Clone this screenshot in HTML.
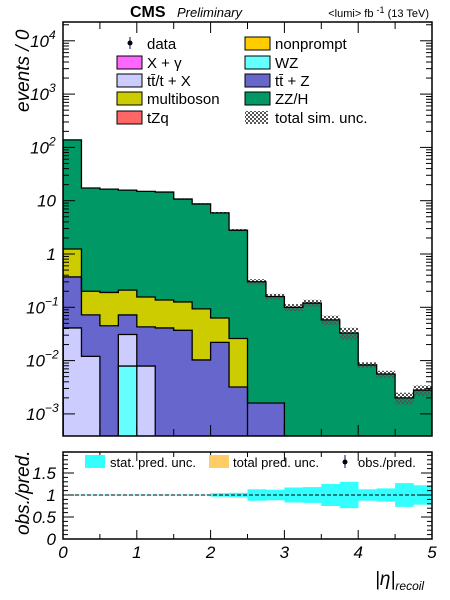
<!DOCTYPE html>
<html><head><meta charset="utf-8">
<style>
body{margin:0;background:#fff;}
svg{display:block;font-family:"Liberation Sans",sans-serif;}
</style></head>
<body>
<svg id="chart" width="450" height="600" viewBox="0 0 450 600" xmlns="http://www.w3.org/2000/svg">
<defs>
<pattern id="hatch" width="4" height="4" patternUnits="userSpaceOnUse">
<rect x="0" y="0" width="2" height="2" fill="#555"/>
<rect x="2" y="2" width="2" height="2" fill="#555"/>
</pattern>
</defs>
<g id="upper"></g>
<g id="lower"></g>
<text x="130" y="17" font-size="16" font-weight="bold">CMS</text>
<text x="177" y="17" font-size="13" font-style="italic">Preliminary</text>
<text x="429" y="17" font-size="11" text-anchor="end">&lt;lumi&gt; fb <tspan dy="-4" font-size="9">-1</tspan><tspan dy="4"> (13 TeV)</tspan></text>
<text transform="translate(29,112) rotate(-90)" font-size="19" font-style="italic">events / 0</text>
<text transform="translate(29,535) rotate(-90)" font-size="19" font-style="italic">obs./pred.</text>
<text x="375" y="585" font-size="19" font-style="italic">|η|<tspan font-size="12" dy="5">recoil</tspan></text>
</svg>
<script>
const binEdges = [0,0.25,0.5,0.75,1,1.25,1.5,1.75,2,2.25,2.5,2.75,3,3.25,3.5,3.75,4,4.25,4.5,4.75,5];
const wzVals = [0,0,0,0.0079,0,0,0,0,0,0,0,0,0,0,0,0,0,0,0,0];
const ttxVals = [0.041,0.012,0,0.023,0.0079,0,0,0,0,0,0,0,0,0,0,0,0,0,0,0];
const ttzVals = [0.33,0.06,0.045,0.041,0.035,0.041,0.037,0.0103,0.022,0.0032,0.0016,0.0016,0,0,0,0,0,0,0,0];
const multibosonVals = [0.87,0.128,0.145,0.138,0.113,0.096,0.089,0.083,0.041,0.0228,0,0,0,0,0,0,0,0,0,0];
const zzhVals = [137,17.1,16.3,15.6,14.8,14.4,10.6,8.6,5.84,2.77,0.30,0.158,0.10,0.12,0.058,0.033,0.0083,0.0056,0.0020,0.0028];
const simUncRel = [0.02,0.02,0.02,0.02,0.02,0.02,0.03,0.03,0.04,0.05,0.12,0.12,0.15,0.15,0.2,0.25,0.12,0.15,0.25,0.22];
const ratioStatUnc = [0.01,0.01,0.01,0.01,0.01,0.01,0.01,0.01,0.04,0.05,0.13,0.12,0.17,0.18,0.25,0.3,0.13,0.15,0.27,0.22];
const yTickExps = [-3,-2,-1,0,1,2,3,4];
const yTickLabels = ["10","10","10","1","10","10","10","10"];
const ySupLabels = ["−3","−2","−1","","","2","3","4"];
const ratioTicks = [0,0.5,1,1.5];
const ratioTickLabels = ["0","0.5","1","1.5"];
const xTicks = [0,1,2,3,4,5];
const xTickLabels = ["0","1","2","3","4","5"];

const NS="http://www.w3.org/2000/svg";
const X0=63,X1=432,UT=22,UB=436,LT=452,LB=539;
const xs=v=>X0+(X1-X0)*v/5;
const ys=v=>254-53.3*Math.log10(v);
const yr=v=>LB-44*v;
function mk(parent,tag,attrs){const e=document.createElementNS(NS,tag);for(const k in attrs)e.setAttribute(k,attrs[k]);parent.appendChild(e);return e;}
const up=document.getElementById('upper'), lo=document.getElementById('lower');
const clipU=mk(up,'clipPath',{id:'cu'});mk(clipU,'rect',{x:X0,y:UT,width:X1-X0,height:UB-UT});
const stackG=mk(up,'g',{'clip-path':'url(#cu)'});


const order=[wzVals,ttxVals,ttzVals,multibosonVals,zzhVals];
const names=["wz","ttx","ttz","multiboson","zz-h"];
const cols=["#66ffff","#ccccff","#6666cc","#cccc00","#009966"];
function cum(idx,i){let s=0;for(let k=0;k<=idx;k++)s+=order[k][i];return s;}
const BOT=UB+5;
const yc=v=>v>0?Math.min(ys(v),BOT):BOT;
for(let li=4;li>=0;li--){
  const vals=order[li];
  for(let i=0;i<vals.length;i++){
    const t=cum(li,i); if(t<=0||vals[i]<=0)continue;
    const r=mk(stackG,'rect',{x:xs(binEdges[i]),y:ys(t),width:xs(binEdges[i+1])-xs(binEdges[i])+0.4,height:Math.max(0,BOT-ys(t)),fill:cols[li]});
    
    
  }
}
for(let i=0;i<zzhVals.length;i++){
  const t=cum(4,i),u=simUncRel[i];
  const h=mk(stackG,'rect',{x:xs(binEdges[i]),y:ys(t*(1+u)),width:xs(binEdges[i+1])-xs(binEdges[i]),height:ys(t*(1-u))-ys(t*(1+u)),fill:'url(#hatch)'});
  
  
}
// step outlines
for(let li=0;li<5;li++){
  let d='';
  const n=order[li].length;
  for(let i=0;i<n;i++){
    const has=order[li][i]>0;
    const y=has?yc(cum(li,i)):BOT;
    const x0=xs(binEdges[i]),x1=xs(binEdges[i+1]);
    d+=(i===0?'M'+x0+','+BOT+' L':' L')+x0+','+y+' L'+x1+','+y;
  }
  d+=' L'+xs(5)+','+BOT;
  const p=mk(stackG,'path',{d:d,fill:'none',stroke:'#000','stroke-width':1.3});
  
  
}
const fu=mk(up,'rect',{x:X0,y:UT,width:X1-X0,height:UB-UT,fill:'none',stroke:'#000','stroke-width':1.5});


for(let v=0;v<=5.001;v+=0.5){
  const L=(Math.abs(v-Math.round(v))<1e-6)?11:7;
  mk(up,'line',{x1:xs(v),x2:xs(v),y1:UB,y2:UB-L,stroke:'#000'});
  mk(up,'line',{x1:xs(v),x2:xs(v),y1:UT,y2:UT+L,stroke:'#000'});
}
yTickExps.forEach((e,i)=>{
  for(let m=1;m<10;m++){
    const y=ys(m*Math.pow(10,e)); if(y<UT||y>UB)continue;
    const L=m===1?12:6;
    mk(up,'line',{x1:X0,x2:X0+L,y1:y,y2:y,stroke:'#000'});
    mk(up,'line',{x1:X1,x2:X1-L,y1:y,y2:y,stroke:'#000'});
  }
  const sup=ySupLabels[i];
  const t=mk(up,'text',{x:sup?(sup.length>1?45:49):56,y:ys(Math.pow(10,e))+6,'font-size':17,'font-style':'italic','text-anchor':'end'});
  
  
  t.textContent=yTickLabels[i];
  if(sup){const s=mk(up,'text',{x:sup.length>1?45:49,y:ys(Math.pow(10,e))-2,'font-size':12,'font-style':'italic'});
    
    
    s.textContent=sup;}
});
const leg=mk(up,'g',{});


const legItems=[[117,43,'data',null],[117,62,'X + γ','#ff66ff'],[117,80,'tt̄/t + X','#ccccff'],[117,98,'multiboson','#cccc00'],[117,117,'tZq','#ff6666'],
[245,43,'nonprompt','#ffcc00'],[245,62,'WZ','#66ffff'],[245,80,'tt̄ + Z','#6666cc'],[245,98,'ZZ/H','#009966'],[245,117,'total sim. unc.','hatch']];
legItems.forEach(([x,y,lab,col])=>{
  const g=mk(leg,'g',{});
  
  
  if(col===null){mk(g,'line',{x1:130,x2:130,y1:y-6,y2:y+6,stroke:'#00008b'});mk(g,'circle',{cx:130,cy:y,r:2.5,fill:'#000'});}
  else if(col==='hatch'){mk(g,'rect',{x:x,y:y-6,width:23,height:13,fill:'url(#hatch)'});}
  else mk(g,'rect',{x:x,y:y-6,width:25,height:13,fill:col,stroke:'#000'});
  const t=mk(g,'text',{x:x+30,y:y+6,'font-size':15});t.textContent=lab;
});
const clipL=mk(lo,'clipPath',{id:'cl'});mk(clipL,'rect',{x:X0,y:LT,width:X1-X0,height:LB-LT});
const bandG=mk(lo,'g',{'clip-path':'url(#cl)'});
for(let i=0;i<ratioStatUnc.length;i++){
  const u=ratioStatUnc[i];
  const r=mk(bandG,'rect',{x:xs(binEdges[i]),y:yr(1+u),width:xs(binEdges[i+1])-xs(binEdges[i])+0.3,height:yr(1-u)-yr(1+u),fill:'#33ffff'});
  
  
}
mk(lo,'line',{x1:X0,x2:X1,y1:yr(1),y2:yr(1),stroke:'#000','stroke-dasharray':'4,2'});
const fl=mk(lo,'rect',{x:X0,y:LT,width:X1-X0,height:LB-LT,fill:'none',stroke:'#000','stroke-width':1.5});


for(let v=0;v<=5.001;v+=0.5){
  const L=(Math.abs(v-Math.round(v))<1e-6)?9:5;
  mk(lo,'line',{x1:xs(v),x2:xs(v),y1:LB,y2:LB-L,stroke:'#000'});
  mk(lo,'line',{x1:xs(v),x2:xs(v),y1:LT,y2:LT+L,stroke:'#000'});
}
for(let v=0;v<=1.95;v+=0.1){
  const L=(Math.abs(v*2-Math.round(v*2))<1e-6)?11:5;
  mk(lo,'line',{x1:X0,x2:X0+L,y1:yr(v),y2:yr(v),stroke:'#000'});
  mk(lo,'line',{x1:X1,x2:X1-L,y1:yr(v),y2:yr(v),stroke:'#000'});
}
ratioTicks.forEach((v,i)=>{
  const t=mk(lo,'text',{x:56,y:yr(v)+6,'font-size':17,'font-style':'italic','text-anchor':'end'});
  
  
  t.textContent=ratioTickLabels[i];
});
xTicks.forEach((v,i)=>{
  const t=mk(lo,'text',{x:xs(v),y:558,'font-size':17,'font-style':'italic','text-anchor':'middle'});
  
  
  t.textContent=xTickLabels[i];
});
const rl=mk(lo,'g',{});


mk(rl,'rect',{x:85,y:455,width:20,height:13,fill:'#33ffff'});
let t1=mk(rl,'text',{x:110,y:467,'font-size':13});t1.textContent='stat. pred. unc.';
mk(rl,'rect',{x:209,y:455,width:20,height:13,fill:'#ffcc66'});
let t2=mk(rl,'text',{x:233,y:467,'font-size':13});t2.textContent='total pred. unc.';
mk(rl,'line',{x1:345,x2:345,y1:455,y2:468,stroke:'#00008b'});
mk(rl,'circle',{cx:345,cy:462,r:2.5,fill:'#000'});
let t3=mk(rl,'text',{x:358,y:467,'font-size':13});t3.textContent='obs./pred.';
</script>
</body></html>
